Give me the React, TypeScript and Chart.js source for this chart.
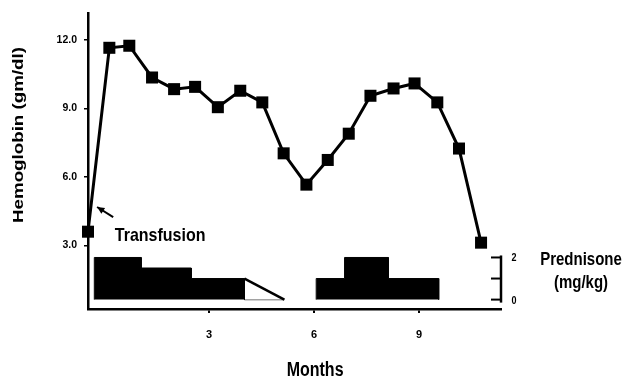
import React, { useEffect, useRef } from "react";
import { Chart, registerables } from "chart.js";

Chart.register(...registerables);

// ---- data ----
const hbMonths = [-0.46, 0.15, 0.72, 1.37, 2.0, 2.6, 3.25, 3.89, 4.52, 5.13, 5.78, 6.39, 6.99, 7.61, 8.27, 8.87, 9.52, 10.14, 10.77];
const hbValues = [3.6, 11.65, 11.74, 10.35, 9.84, 9.94, 9.05, 9.77, 9.26, 7.03, 5.66, 6.74, 7.89, 9.55, 9.87, 10.09, 9.26, 7.24, 3.12];
const hbTicks = [3, 6, 9, 12];
const monthTicks = [3, 6, 9];
const predTicks = [0, 1, 2];
const predTickLabels = ["0", "", "2"];

const course1Starts = [-0.28, 1.06, 2.49];
const course1Doses = [2, 1.5, 1];
const course1End = 4.01;
const taperEnd = 5.15;
const course2Starts = [6.06, 6.87, 8.12];
const course2Doses = [1, 2, 1];
const course2End = 9.56;

const transfusionText = "Transfusion";
const transfusionArrowTip = { x: -0.2, y: 4.68 };
const transfusionArrowTail = { x: 0.26, y: 4.24 };
const transfusionLabelAt = { x: 1.6, y: 3.42 };

const FONT = '"Liberation Sans", Arial, Helvetica, sans-serif';

function stepPoints(starts: number[], doses: number[], end: number) {
  const pts: { x: number; y: number }[] = [{ x: starts[0], y: 0 }];
  starts.forEach((s, i) => {
    const e = i < starts.length - 1 ? starts[i + 1] : end;
    pts.push({ x: s, y: doses[i] });
    pts.push({ x: e, y: doses[i] });
  });
  pts.push({ x: end, y: 0 });
  return pts;
}

function drawText(
  ctx: CanvasRenderingContext2D,
  text: string,
  x: number,
  y: number,
  size: number,
  sx: number,
  sy: number,
  rot = 0,
  align: CanvasTextAlign = "center"
) {
  ctx.save();
  ctx.translate(x, y);
  if (rot) ctx.rotate(rot);
  ctx.scale(sx, sy);
  ctx.font = `bold ${size}px ${FONT}`;
  ctx.fillStyle = "#000";
  ctx.textAlign = align;
  ctx.textBaseline = "middle";
  ctx.fillText(text, 0, 0);
  ctx.restore();
}

const overlayPlugin = {
  id: "overlay",
  afterDraw(chart: any) {
    const { ctx, chartArea, scales } = chart;
    const xs = scales.x;
    const ys = scales.y;
    const y2 = scales.y2;
    ctx.save();
    // Right prednisone axis (short)
    const ax = chartArea.right;
    const p0 = y2.getPixelForValue(0);
    const p2 = y2.getPixelForValue(2);
    ctx.strokeStyle = "#000";
    ctx.lineWidth = 2.5;
    ctx.beginPath();
    ctx.moveTo(ax, p0 + 3);
    ctx.lineTo(ax, p2 - 2);
    ctx.stroke();
    ctx.lineWidth = 2;
    predTicks.forEach((t, i) => {
      const py = y2.getPixelForValue(t);
      ctx.beginPath();
      ctx.moveTo(ax - 10, py);
      ctx.lineTo(ax, py);
      ctx.stroke();
      if (predTickLabels[i]) drawText(ctx, predTickLabels[i], ax + 13, py + 1, 9, 1, 1.2);
    });

    // Titles
    drawText(ctx, "Hemoglobin (gm/dl)", chartArea.left - 69.5, 135, 15, 1.25, 1, -Math.PI / 2);
    drawText(ctx, "Months", xs.getPixelForValue(6) + 1, chartArea.bottom + 61, 16, 1, 1.25);
    drawText(ctx, "Prednisone", ax + 80, p2 + 3, 15, 1, 1.2);
    drawText(ctx, "(mg/kg)", ax + 80, y2.getPixelForValue(1) + 4, 15, 1, 1.2);

    // Transfusion annotation
    const tx = xs.getPixelForValue(transfusionArrowTip.x);
    const ty = ys.getPixelForValue(transfusionArrowTip.y);
    const fx = xs.getPixelForValue(transfusionArrowTail.x);
    const fy = ys.getPixelForValue(transfusionArrowTail.y);
    ctx.lineWidth = 2;
    ctx.beginPath();
    ctx.moveTo(fx, fy);
    ctx.lineTo(tx, ty);
    ctx.stroke();
    const ang = Math.atan2(ty - fy, tx - fx);
    const hl = 8;
    ctx.fillStyle = "#000";
    ctx.beginPath();
    ctx.moveTo(tx, ty);
    ctx.lineTo(tx - hl * Math.cos(ang - 0.45), ty - hl * Math.sin(ang - 0.45));
    ctx.lineTo(tx - hl * Math.cos(ang + 0.45), ty - hl * Math.sin(ang + 0.45));
    ctx.closePath();
    ctx.fill();
    drawText(
      ctx,
      transfusionText,
      xs.getPixelForValue(transfusionLabelAt.x),
      ys.getPixelForValue(transfusionLabelAt.y),
      16,
      1,
      1.2
    );
    ctx.restore();
  },
};

export default function App() {
  const ref = useRef<HTMLCanvasElement | null>(null);

  useEffect(() => {
    if (!ref.current) return;
    const hbData = hbMonths.map((m, i) => ({ x: m, y: hbValues[i] }));
    const course1 = stepPoints(course1Starts, course1Doses, course1End);
    const course2 = stepPoints(course2Starts, course2Doses, course2End);
    const taperDose = course1Doses[course1Doses.length - 1];

    const chart = new Chart(ref.current, {
      type: "line",
      data: {
        datasets: [
          {
            label: "Hemoglobin",
            data: hbData,
            yAxisID: "y",
            borderColor: "#000",
            borderWidth: 3,
            pointStyle: "rect",
            pointRadius: 8.5,
            pointBackgroundColor: "#000",
            pointBorderColor: "#000",
            pointBorderWidth: 0,
            fill: false,
            tension: 0,
            clip: false as any,
            order: 0,
          },
          {
            label: "Prednisone course 1",
            data: course1,
            yAxisID: "y2",
            borderColor: "#000",
            backgroundColor: "#000",
            borderWidth: 1,
            pointRadius: 0,
            fill: "origin",
            tension: 0,
            order: 1,
          },
          {
            label: "Taper",
            data: [
              { x: course1End, y: taperDose },
              { x: taperEnd, y: 0 },
            ],
            yAxisID: "y2",
            borderColor: "#000",
            backgroundColor: "#fff",
            borderWidth: 2.5,
            pointRadius: 0,
            fill: "origin",
            tension: 0,
            order: 1,
          },
          {
            label: "Taper base",
            data: [
              { x: course1End, y: 0 },
              { x: taperEnd, y: 0 },
            ],
            yAxisID: "y2",
            borderColor: "#444",
            borderWidth: 1.5,
            pointRadius: 0,
            fill: false,
            order: 1,
          },
          {
            label: "Prednisone course 2",
            data: course2,
            yAxisID: "y2",
            borderColor: "#000",
            backgroundColor: "#000",
            borderWidth: 1,
            pointRadius: 0,
            fill: "origin",
            tension: 0,
            order: 1,
          },
        ],
      },
      options: {
        animation: false,
        responsive: false,
        devicePixelRatio: 1,
        layout: { padding: { top: 10, left: 0, right: 0, bottom: 0 } },
        plugins: {
          legend: { display: false },
          tooltip: { enabled: false },
          title: { display: false },
        },
        scales: {
          x: {
            type: "linear",
            min: -0.46,
            max: 11.34,
            afterBuildTicks: (s: any) => {
              s.ticks = monthTicks.map((v) => ({ value: v }));
            },
            afterFit: (s: any) => {
              s.height = 68;
            },
            ticks: {
              color: "#000",
              font: { family: FONT, size: 11, weight: "bold" },
              padding: 15,
              maxRotation: 0,
              callback: (v: any) => String(v),
            },
            grid: {
              drawOnChartArea: false,
              drawTicks: true,
              tickLength: 4,
              color: "#000",
              lineWidth: 2,
            },
            border: { display: true, color: "#000", width: 2.5 },
          },
          y: {
            type: "linear",
            position: "left",
            min: 0.216,
            max: 13.16,
            afterBuildTicks: (s: any) => {
              s.ticks = hbTicks.map((v) => ({ value: v }));
            },
            afterFit: (s: any) => {
              s.width = 88;
            },
            ticks: {
              color: "#000",
              font: { family: FONT, size: 10.5, weight: "bold" },
              padding: 7,
              callback: (v: any) => Number(v).toFixed(1),
            },
            grid: {
              drawOnChartArea: false,
              drawTicks: true,
              tickLength: 4,
              color: "#000",
              lineWidth: 1.5,
            },
            border: { display: true, color: "#000", width: 2.5 },
          },
          y2: {
            type: "linear",
            position: "right",
            min: -0.446,
            max: 13.59,
            afterFit: (s: any) => {
              s.width = 130;
            },
            ticks: { display: false },
            grid: { display: false },
            border: { display: false },
          },
        },
      } as any,
      plugins: [overlayPlugin],
    });
    return () => chart.destroy();
  }, []);

  return (
    <div style={{ position: "fixed", left: 0, top: 0, width: 631, height: 377, background: "#fff" }}>
      <canvas ref={ref} width={631} height={377} style={{ display: "block" }} />
    </div>
  );
}
